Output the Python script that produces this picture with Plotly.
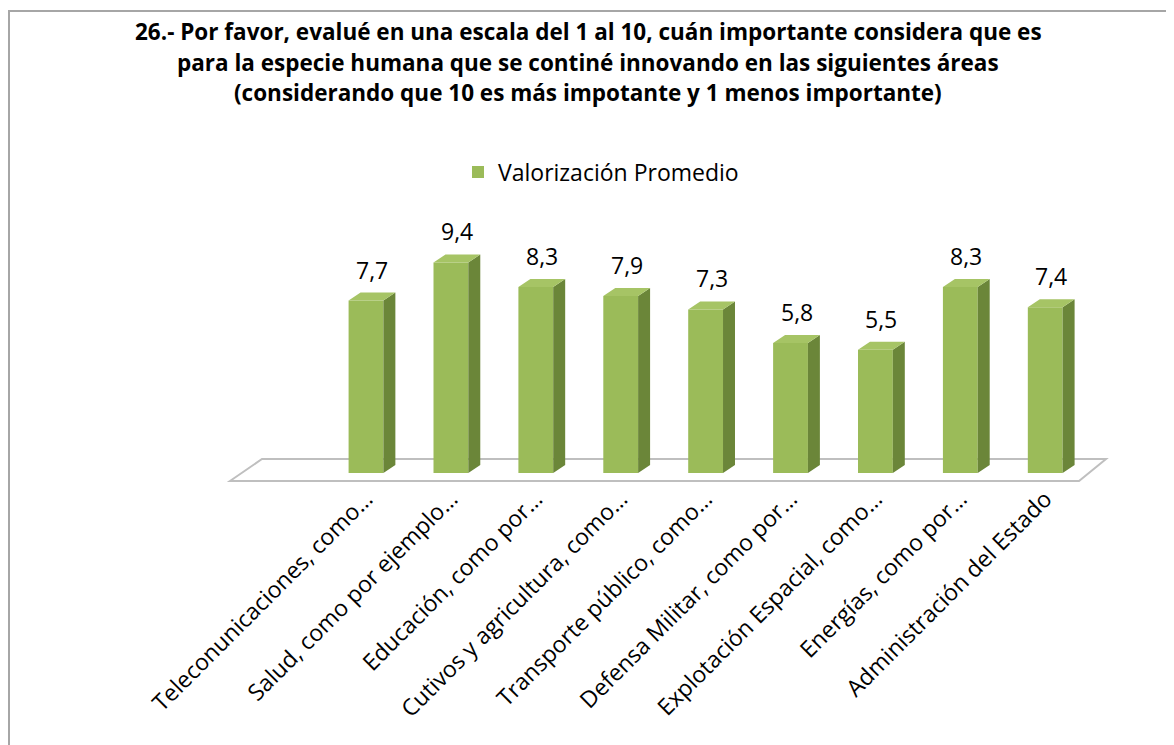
import plotly.graph_objects as go

# data
categorias = [
    'Teleconunicaciones, como…',
    'Salud, como por ejemplo…',
    'Educación, como por…',
    'Cutivos y agricultura, como…',
    'Transporte público, como…',
    'Defensa Militar, como por…',
    'Explotación Espacial, como…',
    'Energías, como por…',
    'Administración del Estado',
]
valores = [7.7, 9.4, 8.3, 7.9, 7.3, 5.8, 5.5, 8.3, 7.4]
serie = 'Valorización Promedio'
titulo = [
    '26.- Por favor, evalué en una escala del 1 al 10, cuán importante considera que es',
    'para la especie humana que se continé innovando en las siguientes áreas',
    '(considerando que 10 es más impotante y 1 menos importante)',
]

cols = {
    'front': '#9BBB59',
    'side': '#6B8639',
    'top': '#A6C465',
    'floor_line': '#BFBFBF',
    'frame': '#A6A6A6',
}
FONT = 'Open Sans, Liberation Sans, sans-serif'

# page geometry (the html body adds an 8px margin)
OFF = 8
W, H = 1174 - OFF, 745 - OFF
L, T = 214, 192
PW, PH = 892, 286


def px_x(X):
    # screen x -> paper x
    return (X - OFF - L) / PW


def px_y(Y):
    # screen y -> paper y
    return (T + PH - (Y - OFF)) / PH


pos = list(range(len(valores)))
half_w = 0.205   # half bar width (x units)
dx = 0.141       # depth offset, x units
dy = 0.357       # depth offset, y units

fig = go.Figure()

fig.add_trace(go.Bar(
    x=pos, y=valores, width=2 * half_w, name=serie,
    marker=dict(color=cols['front'], line=dict(width=0)),
    showlegend=True,
))

# side faces and top faces of the pseudo-3D bars
side_x, side_y, top_x, top_y = [], [], [], []
for p, v in zip(pos, valores):
    r = p + half_w
    l = p - half_w
    side_x += [r, r + dx, r + dx, r, r, None]
    side_y += [0, dy, v + dy, v, 0, None]
    top_x += [l, r, r + dx, l + dx, l, None]
    top_y += [v, v, v + dy, v + dy, v, None]

fig.add_trace(go.Scatter(
    x=side_x, y=side_y, mode='lines', fill='toself',
    fillcolor=cols['side'], line=dict(width=0, color=cols['side']),
    showlegend=False, hoverinfo='skip',
))
fig.add_trace(go.Scatter(
    x=top_x, y=top_y, mode='lines', fill='toself',
    fillcolor=cols['top'], line=dict(width=0, color=cols['top']),
    showlegend=False, hoverinfo='skip',
))

# value labels
for p, v in zip(pos, valores):
    fig.add_annotation(
        x=p + dx / 2, y=v + dy, text=f'{v:.1f}'.replace('.', ','),
        showarrow=False, yanchor='bottom', yshift=5,
        font=dict(family=FONT, size=23, color='#000000'),
    )

# floor
fig.add_shape(
    type='path', layer='below', xref='x', yref='y',
    path='M -1.602 -0.357 L -1.225 0.625 L 8.716 0.625 L 8.398 -0.357 Z',
    fillcolor='#FFFFFF', line=dict(color=cols['floor_line'], width=2),
)

# outer frame
fig.add_shape(
    type='rect', xref='paper', yref='paper',
    x0=px_x(9), x1=px_x(1200), y0=px_y(800), y1=px_y(11),
    line=dict(color=cols['frame'], width=2), fillcolor='rgba(0,0,0,0)',
)

# title lines
for txt, yy in zip(titulo, [32, 62, 93]):
    fig.add_annotation(
        x=px_x(588), y=px_y(yy), xref='paper', yref='paper',
        text=f'<b>{txt}</b>',
        showarrow=False, xanchor='center', yanchor='middle',
        font=dict(family=FONT, size=22.5, color='#000000'),
    )

fig.update_xaxes(
    range=[-1.696, 8.810], tickvals=pos, ticktext=categorias,
    tickangle=-45, showgrid=False, zeroline=False, showline=False,
    ticks='', ticklabelstandoff=-6,
    tickfont=dict(family=FONT, size=23, color='#000000'),
)
fig.update_yaxes(
    range=[-0.580, 12.188], showgrid=False, zeroline=False,
    showline=False, showticklabels=False, ticks='',
)

fig.update_layout(
    width=W, height=H,
    margin=dict(l=L, r=W - L - PW, t=T, b=H - T - PH),
    plot_bgcolor='#FFFFFF', paper_bgcolor='#FFFFFF',
    bargap=0.5,
    legend=dict(
        orientation='h', x=px_x(458), y=px_y(172),
        xanchor='left', yanchor='middle',
        font=dict(family=FONT, size=23, color='#000000'),
        itemwidth=30,
    ),
    showlegend=True,
)

fig.write_html('out.html')
